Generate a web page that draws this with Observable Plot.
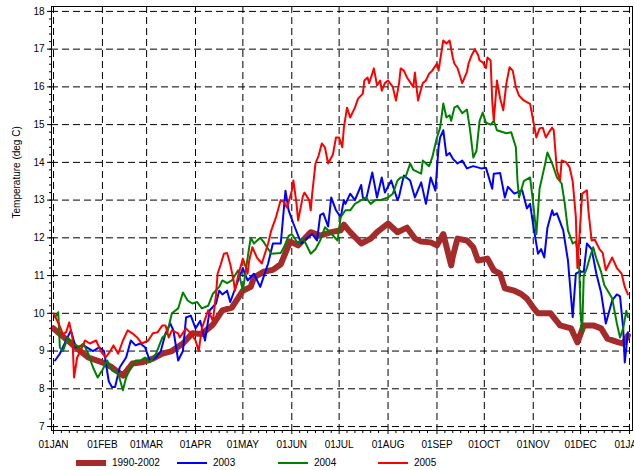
<!DOCTYPE html>
<html>
<head>
<meta charset="utf-8">
<script src="https://cdn.jsdelivr.net/npm/d3@7"></script>
<script src="https://cdn.jsdelivr.net/npm/@observablehq/plot@0.6"></script>
<style>
  html, body { margin: 0; padding: 0; background: #fff; }
  body { width: 634px; height: 470px; overflow: hidden; font-family: "Liberation Sans Narrow", "Liberation Sans", Arial, sans-serif; }
  #chart svg { display: block; }
  #legend { position: relative; width: 634px; height: 18px; font-size: 10px; color: #000; }
  #legend .sw { position: absolute; width: 30px; }
  #legend .lb { position: absolute; top: 4px; line-height: 10px; }
</style>
</head>
<body>
<div id="chart"></div>
<div id="legend"></div>
<script>
// ---- tick labels ----
const monthLabels = ["01JAN","01FEB","01MAR","01APR","01MAY","01JUN","01JUL","01AUG","01SEP","01OCT","01NOV","01DEC","01JAN"];
const yLabels = [7,8,9,10,11,12,13,14,15,16,17,18];
const yTitle = "Temperature (deg C)";

// ---- series names / colours ----
const seriesNames = ["1990-2002","2003","2004","2005"];
const seriesColors = ["#a52a2a","#0000ff","#008000","#ff0000"];
const seriesWidths = [6, 2, 2, 2];

// ---- data: day of year (0 = 1 Jan) and temperature (deg C) ----
const climDays  = [0,14,22,31,37,44,50,56,63,69,75,82,88,94,101,107,113,120,125,127,133,139,144,147,150,155,158,163,169,176,182,184,188,195,201,205,212,218,224,229,233,239,243,247,252,253,256,262,266,269,275,279,283,286,292,296,300,304,307,315,321,328,332,336,342,347,351,358,361,364];
const climTemps = [9.6,9.1,8.83,8.7,8.57,8.35,8.67,8.7,8.8,8.93,9.0,9.2,9.47,9.45,9.7,10.08,10.15,10.6,10.7,10.95,11.1,11.15,11.3,11.6,11.9,11.8,11.93,12.15,12.06,12.15,12.2,12.35,12.15,11.85,11.98,12.15,12.38,12.15,12.27,11.98,11.9,11.88,11.8,12.1,11.27,11.5,11.98,11.93,11.75,11.4,11.45,11.14,11.05,10.66,10.6,10.52,10.39,10.15,10.0,10.0,9.68,9.6,9.23,9.68,9.68,9.6,9.33,9.23,9.2,9.41];

const y2003Days  = [1,4,8,11,14,19,25,29,32,35,37,39,42,46,49,52,55,58,61,65,68,71,74,76,79,82,84,87,90,93,96,99,103,105,107,110,112,117,120,123,127,131,136,139,144,147,149,152,157,161,164,167,169,171,174,176,179,182,184,185,188,191,195,196,198,202,205,208,210,214,218,219,222,226,229,233,236,239,242,244,245,247,249,251,253,256,259,262,266,271,274,278,279,283,286,288,292,297,300,302,304,307,309,311,313,316,317,319,323,326,329,331,333,336,338,341,344,347,350,354,357,359,361,362,364];
const y2003Temps = [8.75,8.93,9.28,9.55,9.1,9.15,9.0,9.1,9.0,8.2,8.05,8.05,8.57,8.83,9.28,9.15,9.2,9.1,8.75,8.83,9.0,9.47,9.73,9.55,8.75,9.0,9.89,9.94,9.6,9.8,9.28,10.08,10.26,10.6,10.5,10.6,10.3,10.87,11.2,10.87,11.05,10.7,11.32,11.85,11.85,13.25,12.73,12.38,11.85,12.0,12.1,11.93,12.6,12.65,12.3,13.07,12.73,12.55,13.0,12.9,13.17,13.0,13.4,13.07,13.0,13.73,13.07,13.6,13.2,13.52,13.0,13.1,13.65,13.52,13.07,13.47,12.9,13.6,13.25,14.4,14.66,14.85,14.18,14.25,14.1,13.97,14.05,13.84,13.9,13.84,13.86,13.3,13.7,13.72,13.07,13.35,13.17,13.26,12.78,12.9,12.33,11.58,11.7,11.48,12.27,12.73,12.6,12.65,12.2,11.4,9.9,11.05,11.1,11.1,11.85,11.7,11.05,10.55,9.73,10.34,10.5,10.45,9.6,8.7,9.5];

const y2004Days  = [1,3,4,6,9,12,16,19,22,25,28,31,34,37,41,44,46,49,52,55,58,61,65,69,72,75,79,82,85,88,91,94,98,101,105,107,110,113,117,120,124,125,127,131,133,138,144,146,149,151,155,158,161,163,166,169,172,174,180,182,185,188,191,195,198,201,204,207,212,215,218,220,223,226,228,233,234,238,240,243,245,247,249,251,252,254,256,259,262,264,266,268,270,272,274,277,279,281,287,290,293,294,295,298,302,304,306,308,311,313,316,319,322,324,326,329,331,333,334,335,336,338,340,342,344,347,349,354,357,359,361,363,364];
const y2004Temps = [9.9,10.03,9.1,9.0,9.36,9.2,9.1,9.2,8.93,8.57,8.3,8.5,8.75,8.49,8.4,7.96,8.3,8.57,8.75,8.75,8.83,8.7,8.93,9.36,9.47,10.0,10.13,10.55,10.34,10.26,10.3,10.13,10.2,10.52,10.7,10.87,10.8,10.87,11.14,10.6,11.75,12.0,11.85,12.0,11.9,11.58,11.6,11.75,12.05,12.1,11.85,12.0,11.75,11.58,11.7,11.93,12.28,12.2,11.93,12.55,12.73,12.73,12.9,13.0,13.07,12.9,13.0,13.0,13.07,13.17,13.52,13.6,13.6,13.97,13.8,13.7,14.05,13.9,14.13,14.66,14.92,15.56,15.19,15.25,15.1,15.45,15.5,15.3,15.4,14.85,14.13,14.3,15.1,15.32,15.05,15.0,15.1,14.85,14.77,14.8,14.4,13.52,13.07,13.5,13.6,12.9,12.1,13.3,13.86,14.26,13.97,13.6,13.44,12.9,12.2,11.85,11.9,11.4,10.0,9.5,11.0,11.2,11.5,11.75,11.45,11.1,10.75,10.4,9.73,9.36,9.6,10.07,9.9];

const y2005Days  = [0,3,6,8,10,12,13,15,17,20,23,27,30,33,36,38,41,44,47,50,53,56,60,63,66,69,71,73,75,79,80,84,87,90,92,94,98,101,103,104,106,108,110,112,114,115,117,119,120,122,123,124,126,129,132,136,138,141,144,146,148,151,152,154,155,158,159,162,163,164,166,168,170,171,172,174,177,179,181,183,184,186,188,191,193,196,197,199,200,202,203,205,207,208,210,212,215,217,219,220,222,224,228,229,231,232,234,236,238,240,243,244,246,247,249,251,253,254,256,259,262,263,265,267,269,270,272,274,275,277,278,279,281,283,285,287,289,291,293,295,298,302,304,306,308,310,312,314,316,317,319,321,322,325,327,329,331,332,335,338,339,341,343,346,348,350,354,357,360,362,364];
const y2005Temps = [10.0,9.75,9.45,9.5,9.76,9.35,8.3,8.83,9.0,9.28,9.2,9.28,9.0,8.83,9.0,9.15,8.93,9.28,9.55,9.47,9.36,9.2,9.28,9.47,9.5,9.68,9.68,9.36,9.55,9.47,9.36,9.6,9.47,9.28,9.0,9.6,10.08,9.8,10.5,11.05,11.3,11.58,11.6,11.3,10.9,10.6,11.0,11.3,11.45,11.2,11.05,11.4,11.75,11.47,11.32,11.85,12.2,12.55,13.0,12.95,12.8,13.25,13.52,12.9,12.46,13.1,13.2,13.0,12.73,13.2,13.97,14.18,14.5,14.45,14.4,13.97,14.2,14.66,14.66,14.4,14.92,15.45,15.19,15.45,15.69,15.82,16.17,16.25,16.1,16.35,16.49,16.04,16.17,15.9,16.1,16.17,16.0,15.64,16.1,16.49,16.43,16.25,16.0,16.38,15.64,15.8,16.1,16.17,16.35,16.43,16.62,16.43,16.97,17.23,17.15,17.23,16.78,16.62,16.5,16.1,16.4,16.62,16.84,17.0,16.85,16.7,16.65,16.5,16.78,16.7,15.64,15.1,16.17,15.7,15.38,16.1,16.52,16.43,15.99,15.77,15.64,15.55,15.1,14.66,14.9,14.92,14.66,14.8,14.92,14.85,13.79,13.52,14.05,14.0,13.87,13.5,12.55,11.2,13.17,13.26,12.7,11.93,11.95,11.7,11.6,11.14,11.48,11.2,11.05,10.7,10.5];

// ---- build table ----
const DAY = 864e5;
const base = Date.UTC(2005, 0, 1);
const toRows = (days, temps, name) => days.map((d, i) => ({date: new Date(base + d * DAY), temp: temps[i], series: name}));
const rows = [
  ...toRows(climDays, climTemps, seriesNames[0]),
  ...toRows(y2003Days, y2003Temps, seriesNames[1]),
  ...toRows(y2004Days, y2004Temps, seriesNames[2]),
  ...toRows(y2005Days, y2005Temps, seriesNames[3])
];

const monthTicks = d3.range(13).map(m => new Date(Date.UTC(2005, m, 1)));
const minorX = [];
for (let m = 0; m < 12; m++) for (const d of [6, 11, 16, 21, 26]) minorX.push(new Date(Date.UTC(2005, m, d)));
const minorY = d3.range(7, 18.01, 0.2).map(v => Math.round(v * 10) / 10);
const monthLabel = d => monthLabels[monthTicks.findIndex(t => +t === +d)];

const grid = {stroke: "#000", strokeOpacity: 1, strokeWidth: 1, strokeDasharray: "7,4"};

const marks = [
  Plot.gridX(monthTicks, grid),
  Plot.gridY(yLabels, grid),
  Plot.axisX(minorX, {tickSize: 3, tickFormat: () => "", label: null}),
  Plot.axisX(monthTicks, {tickSize: 4, tickPadding: 6, tickFormat: monthLabel, label: null, fontSize: 10}),
  Plot.axisY(minorY, {tickSize: 2, tickFormat: () => "", label: null}),
  Plot.axisY(yLabels, {tickSize: 4, tickPadding: 3, label: null, fontSize: 10}),
  Plot.text([yTitle], {frameAnchor: "left", rotate: -90, dx: -35, fontSize: 10, fill: "#000"})
];
seriesNames.forEach((name, i) => {
  marks.push(Plot.line(rows.filter(r => r.series === name), {
    x: "date", y: "temp", stroke: seriesColors[i], strokeWidth: seriesWidths[i], curve: "linear"
  }));
});
marks.push(Plot.frame({stroke: "#000", strokeWidth: 1}));

const chart = Plot.plot({
  width: 634,
  height: 452,
  marginTop: 6,
  marginBottom: 22,
  marginLeft: 51,
  marginRight: 2,
  style: {background: "#fff", color: "#000", fontFamily: "'Liberation Sans Narrow', 'Liberation Sans', Arial, sans-serif", fontSize: "10px", overflow: "visible"},
  x: {type: "utc", domain: [new Date(base - 1.27 * DAY), new Date(base + 366.9 * DAY)]},
  y: {domain: [6.895, 18.13]},
  marks
});
document.getElementById("chart").appendChild(chart);

// ---- legend below the plot ----
const legend = document.getElementById("legend");
const swatchX = [76, 177, 278, 378];
seriesNames.forEach((name, i) => {
  const sw = document.createElement("div");
  sw.className = "sw";
  sw.style.left = swatchX[i] + "px";
  sw.style.height = seriesWidths[i] + "px";
  sw.style.top = (11 - seriesWidths[i] / 2) + "px";
  sw.style.background = seriesColors[i];
  legend.appendChild(sw);
  const lb = document.createElement("div");
  lb.className = "lb";
  lb.style.left = (swatchX[i] + 36) + "px";
  lb.style.top = "6px";
  lb.textContent = name;
  legend.appendChild(lb);
});
</script>
</body>
</html>
